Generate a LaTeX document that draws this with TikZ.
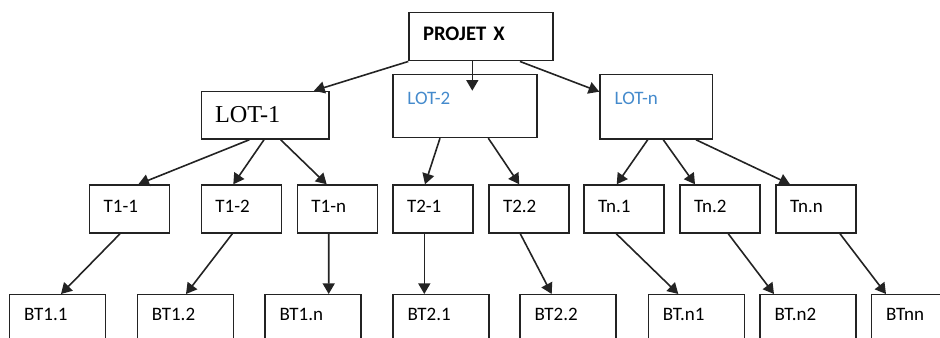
\documentclass[tikz,border=0pt]{standalone}
\usepackage{fontspec}
\setmainfont{Carlito}
\newfontfamily\timesfont{Liberation Serif}
\usetikzlibrary{calc,arrows.meta}
\definecolor{lotblue}{RGB}{68,138,204}
\definecolor{ink}{RGB}{35,35,35}
\begin{document}
\begin{tikzpicture}[x=0.75pt,y=-0.75pt,
  box/.style={draw=ink, line width=1.1pt, anchor=north west, inner ysep=0pt, align=left,
    font=\fontsize{14.25}{17}\selectfont},
  tbox/.style={box, inner xsep=10.5pt, text width=39pt, text height=20.55pt, text depth=15.45pt},
  btbox/.style={box, inner xsep=10.875pt, text width=50.25pt, text height=19.5pt, text depth=30pt},
  arr/.style={draw=ink, line width=1.2pt, -{Triangle[length=8pt,width=9pt]}}]
\useasboundingbox (0,0) rectangle (940,337);
\clip (0,0) rectangle (940,337);

% top level
\node[box, inner xsep=10.5pt, text width=87pt, text height=20.7pt, text depth=15.53pt,
  font=\fontsize{15.5}{18}\selectfont\bfseries] (projet) at (408.3,11.7) {PROJET X};

% lots
\node[box, inner xsep=10.2pt, text width=75.3pt, text height=23.25pt, text depth=12.45pt,
  font=\fontsize{18.2}{21}\selectfont\timesfont] (lot1) at (200.7,90.7) {LOT-1};
\node[box, inner xsep=10.8pt, text width=86.2pt, text height=21.98pt, text depth=25.05pt,
  text=lotblue] (lot2) at (392.3,74) {LOT-2};
\node[box, inner xsep=11.03pt, text width=62.25pt, text height=21.98pt, text depth=26.25pt,
  text=lotblue] (lotn) at (599.3,74) {LOT-n};

% tasks
\node[tbox] (t11) at (89,184.3) {T1-1};
\node[tbox] (t12) at (200.7,184.3) {T1-2};
\node[tbox] (t1n) at (296.7,184.3) {T1-n};
\node[tbox] (t21) at (392.3,184.3) {T2-1};
\node[tbox] (t22) at (488.3,184.3) {T2.2};
\node[tbox] (tn1) at (583.3,184.3) {Tn.1};
\node[tbox] (tn2) at (679.3,184.3) {Tn.2};
\node[tbox] (tnn) at (775.3,184.3) {Tn.n};

% sub tasks
\node[btbox] (bt11) at (9,294) {BT1.1};
\node[btbox] (bt12) at (136.7,294) {BT1.2};
\node[btbox] (bt1n) at (264.3,294) {BT1.n};
\node[btbox] (bt21) at (392.3,294) {BT2.1};
\node[btbox] (bt22) at (519.3,294) {BT2.2};
\node[btbox] (btn1) at (647.7,294) {BT.n1};
\node[btbox] (btn2) at (759.3,294) {BT.n2};
\node[btbox] (btnn) at (871,294) {BTnn};

% connectors level 1
\draw[arr] (projet.south west) -- ($(lot1.north west)+(113.3,0)$);
\draw[arr] ($(projet.south west)+(64,0)$) -- ($(lot2.north west)+(80,16.7)$);
\draw[arr] ($(projet.south west)+(111.7,0)$) -- ($(lotn.north west)+(0,17.7)$);

% connectors level 2
\draw[arr] ($(lot1.south west)+(48.6,0)$) -- ($(t11.north west)+(49.3,0)$);
\draw[arr] ($(lot1.south west)+(63.3,0)$) -- ($(t12.north west)+(32.6,0)$);
\draw[arr] ($(lot1.south west)+(80,0)$) -- ($(t1n.north west)+(30,0)$);
\draw[arr] ($(lot2.south west)+(47.7,0)$) -- ($(t21.north west)+(32.7,0)$);
\draw[arr] ($(lot2.south west)+(96,0)$) -- ($(t22.north west)+(31,0)$);
\draw[arr] ($(lotn.south west)+(48.4,0)$) -- ($(tn1.north west)+(33.4,0)$);
\draw[arr] ($(lotn.south west)+(64,0)$) -- ($(tn2.north west)+(15.7,0)$);
\draw[arr] ($(lotn.south west)+(96.7,0)$) -- ($(tnn.north west)+(14.7,0)$);

% connectors level 3
\draw[arr] ($(t11.south west)+(31,0)$) -- ($(bt11.north west)+(52,0)$);
\draw[arr] ($(t12.south west)+(31.6,0)$) -- ($(bt12.north west)+(49.3,0)$);
\draw[arr] ($(t1n.south west)+(32,0)$) -- ($(bt1n.north west)+(64.4,0)$);
\draw[arr] ($(t21.south west)+(32,0)$) -- ($(bt21.north west)+(32,0)$);
\draw[arr] ($(t22.south west)+(32,0)$) -- ($(bt22.north west)+(32.4,0)$);
\draw[arr] ($(tn1.south west)+(33,0)$) -- ($(btn1.north west)+(30.6,0)$);
\draw[arr] ($(tn2.south west)+(49,0)$) -- ($(btn2.north west)+(14.7,0)$);
\draw[arr] ($(tnn.south west)+(64.7,0)$) -- ($(btnn.north west)+(15,0)$);
\end{tikzpicture}
\end{document}
